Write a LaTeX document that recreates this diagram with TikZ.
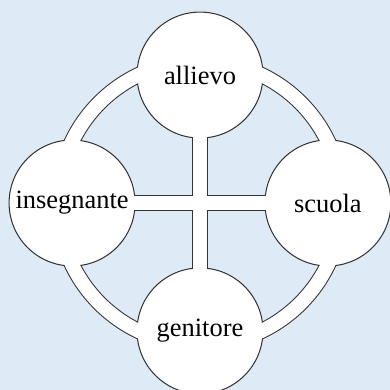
\documentclass[tikz,border=0pt]{standalone}
\usepackage{fontspec}
\setmainfont{Liberation Serif}
\usetikzlibrary{backgrounds}
\definecolor{panelblue}{HTML}{DEEBF7}
\definecolor{inkgray}{HTML}{333333}

\begin{document}
\begin{tikzpicture}[
    font=\fontsize{19.3}{23}\selectfont,
    % Styles
    role/.style={circle, draw=inkgray, fill=white, line width=0.75pt, minimum size=3.23cm, inner sep=0pt},
    tag/.style={inner sep=0pt, text=black},
    tubeedge/.style={line width=11.7pt, draw=inkgray},
    tubefill/.style={line width=10.2pt, draw=white}
]
\useasboundingbox (-5.128,-4.795) rectangle (4.872,5.205);

% ------------------- ROLES -------------------
\coordinate (hub) at (0,0);
\node[role] (allievo) at (0,3.28) {};
\node[role] (insegnante) at (-3.28,0) {};
\node[role] (scuola) at (3.28,0) {};
\node[role] (genitore) at (0,-3.28) {};

% ------------------- TUBE OUTLINES -------------------
\begin{scope}[on background layer]
\fill[panelblue] (-5.128,-4.795) rectangle (4.872,5.205);
\draw[tubeedge] (hub) circle[radius=3.64cm];
\draw[tubeedge] (allievo.center) -- (genitore.center);
\draw[tubeedge] (insegnante.center) -- (scuola.center);
\end{scope}

% ------------------- TUBE INSIDES -------------------
\draw[tubefill] (hub) circle[radius=3.64cm];
\draw[tubefill, shorten <=-2pt, shorten >=-2pt] (allievo.south) -- (genitore.north);
\draw[tubefill, shorten <=-2pt, shorten >=-2pt] (insegnante.east) -- (scuola.west);

% ------------------- LABELS -------------------
\node[tag] (allievo-txt) at (allievo) {allievo};
\node[tag] (insegnante-txt) at (insegnante) {insegnante};
\node[tag] (scuola-txt) at (scuola) {scuola};
\node[tag] (genitore-txt) at (genitore) {genitore};

\end{tikzpicture}
\end{document}
